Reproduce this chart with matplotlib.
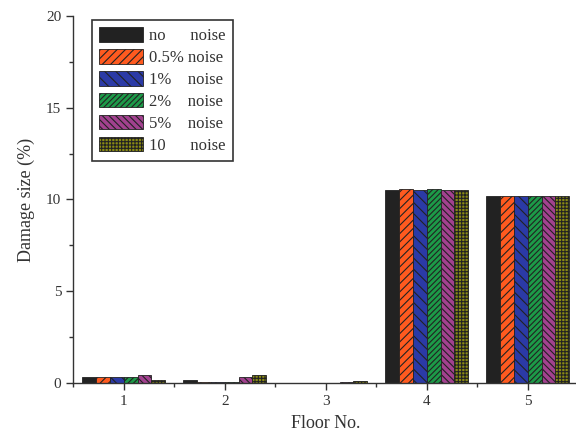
import numpy as np
import matplotlib
matplotlib.use('Agg')
import matplotlib.pyplot as plt
from matplotlib.ticker import MultipleLocator

plt.rcParams['font.family'] = 'Liberation Serif'
plt.rcParams['hatch.linewidth'] = 0.8

# Данные
floors = [1, 2, 3, 4, 5]
labels = ['no      noise', '0.5% noise', '1%    noise', '2%    noise', '5%    noise', '10      noise']
no_noise = [0.3, 0.15, 0.0, 10.5, 10.2]
noise_05 = [0.3, 0.03, 0.0, 10.55, 10.2]
noise_1 = [0.3, 0.03, 0.0, 10.5, 10.2]
noise_2 = [0.3, 0.03, 0.0, 10.55, 10.2]
noise_5 = [0.4, 0.3, 0.07, 10.5, 10.2]
noise_10 = [0.15, 0.45, 0.08, 10.5, 10.2]
series = [no_noise, noise_05, noise_1, noise_2, noise_5, noise_10]

# Стили столбцов
colors = ['#222222', '#ff5a1f', '#2b3aa6', '#1c9a48', '#a2418f', '#8a8a14']
hatches = ['', '////', '\\\\\\', '//////', '\\\\\\\\\\', '+++++']

fig = plt.figure(figsize=(5.76, 4.37), dpi=100)
ax = fig.add_axes([0.127, 0.124, 0.877, 0.839])

x = np.array(floors, dtype=float)
width = 0.137
for i, (vals, lab) in enumerate(zip(series, labels)):
    offset = (i - 2.5) * width
    ax.bar(x + offset, vals, width, label=lab, color=colors[i],
           hatch=hatches[i], edgecolor='#222222', linewidth=0.6)

ax.set_xlim(0.5, 5.5)
ax.set_ylim(0, 20)
ax.set_xticks(floors)
ax.set_yticks([0, 5, 10, 15, 20])
ax.xaxis.set_minor_locator(MultipleLocator(0.5))
ax.yaxis.set_minor_locator(MultipleLocator(2.5))
ax.tick_params(which='major', direction='out', length=5, width=1, labelsize=11, colors='#333333')
ax.tick_params(which='minor', direction='out', length=3, width=1, colors='#333333')
for s in ['top', 'right']:
    ax.spines[s].set_visible(False)
for s in ['left', 'bottom']:
    ax.spines[s].set_color('#333333')
    ax.spines[s].set_linewidth(1)

ax.set_xlabel('Floor No.', fontsize=13, color='#333333', labelpad=5)
ax.set_ylabel('Damage size (%)', fontsize=13, color='#333333', labelpad=8)

leg = ax.legend(loc='upper left', bbox_to_anchor=(0.037, 0.99), borderaxespad=0,
                fontsize=12, handlelength=2.6, handleheight=0.95, handletextpad=0.35,
                labelspacing=0.3, borderpad=0.45, fancybox=False, edgecolor='#333333',
                framealpha=1)
leg.get_frame().set_linewidth(1.2)
for t in leg.get_texts():
    t.set_color('#333333')

fig.savefig('out.png', dpi=100)
